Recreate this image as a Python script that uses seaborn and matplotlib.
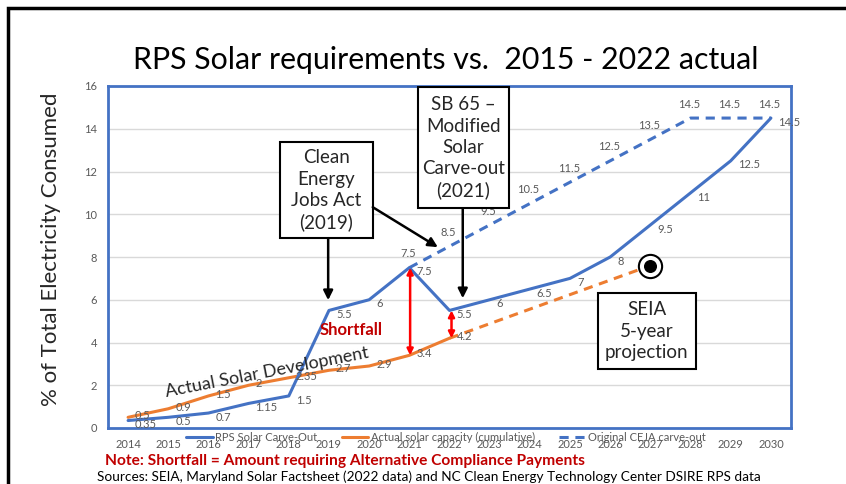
import pandas as pd
import seaborn as sns
import matplotlib.pyplot as plt
from matplotlib.lines import Line2D
from matplotlib.patches import Rectangle

# data
years = list(range(2014, 2031))
rps_carveout = [0.35, 0.5, 0.7, 1.15, 1.5, 5.5, 6, 7.5, 5.5, 6, 6.5, 7, 8, 9.5, 11, 12.5, 14.5]

actual_years = list(range(2014, 2023))
actual_capacity = [0.5, 0.9, 1.5, 2, 2.35, 2.7, 2.9, 3.4, 4.2]

proj_years = [2022, 2027]
proj_capacity = [4.2, 7.6]

ceja_years = list(range(2021, 2031))
ceja_carveout = [7.5, 8.5, 9.5, 10.5, 11.5, 12.5, 13.5, 14.5, 14.5, 14.5]

y_ticks = [0, 2, 4, 6, 8, 10, 12, 14, 16]

BLUE = "#4472C4"
ORANGE = "#ED7D31"
GRAY = "#595959"
RED = "#C00000"

sns.set_style("white")
plt.rcParams['font.family'] = ['Lato', 'DejaVu Sans']

fig = plt.figure(figsize=(8.46, 4.84), dpi=100)
ax = fig.add_axes([108 / 846, 1 - 428 / 484, 683 / 846, 342 / 484])

df_rps = pd.DataFrame({"year": years, "value": rps_carveout})
df_act = pd.DataFrame({"year": actual_years, "value": actual_capacity})
df_proj = pd.DataFrame({"year": proj_years, "value": proj_capacity})
df_ceja = pd.DataFrame({"year": ceja_years, "value": ceja_carveout})

dash = (0, (3, 2.2))
sns.lineplot(data=df_ceja, x="year", y="value", ax=ax, color=BLUE, lw=2.2,
             linestyle=dash, zorder=3)
sns.lineplot(data=df_proj, x="year", y="value", ax=ax, color=ORANGE, lw=2.2,
             linestyle=dash, zorder=3)
sns.lineplot(data=df_act, x="year", y="value", ax=ax, color=ORANGE, lw=2.2, zorder=4)
sns.lineplot(data=df_rps, x="year", y="value", ax=ax, color=BLUE, lw=2.2, zorder=5)

# projection target marker
ax.scatter([proj_years[-1]], [proj_capacity[-1]], s=280, facecolor="white",
           edgecolor="black", linewidth=1.5, zorder=6)
ax.scatter([proj_years[-1]], [proj_capacity[-1]], s=70, color="black", zorder=7)

# data labels
lbl = dict(fontsize=8, color=GRAY, zorder=8)
for x, v in zip(years, rps_carveout):
    ax.annotate(f"{v:g}", (x, v), xytext=(5, -3), textcoords="offset points",
                ha="left", va="center", **lbl)
for x, v in zip(actual_years, actual_capacity):
    ax.annotate(f"{v:g}", (x, v), xytext=(5, 1), textcoords="offset points",
                ha="left", va="center", **lbl)
for x, v in zip(ceja_years, ceja_carveout):
    ax.annotate(f"{v:g}", (x, v), xytext=(-1, 10), textcoords="offset points",
                ha="center", va="center", **lbl)

ax.set_xlim(2013.5, 2030.5)
ax.set_ylim(0, 16)
ax.set_xticks(years)
ax.set_yticks(y_ticks)
ax.tick_params(axis="both", length=0, labelsize=8, labelcolor=GRAY)
ax.tick_params(axis="x", pad=8)
ax.tick_params(axis="y", pad=8)
ax.grid(axis="y", color="#D9D9D9", lw=1)
ax.set_axisbelow(True)
for sp in ax.spines.values():
    sp.set_color(BLUE)
    sp.set_linewidth(2)
ax.set_xlabel("")
ax.set_ylabel("% of Total Electricity Consumed", fontsize=16, color="#262626")
ax.yaxis.set_label_coords(-(108 - 61) / 683, (428 - 249) / 342)


def text_box(x0, x1, y0, y1, txt):
    ax.add_patch(Rectangle((x0, y0), x1 - x0, y1 - y0, fc="white", ec="black",
                           lw=1.5, zorder=9))
    ax.text((x0 + x1) / 2, (y0 + y1) / 2, txt, ha="center", va="center",
            fontsize=13.5, linespacing=1.3, zorder=10)


# annotation boxes
text_box(2017.78, 2020.09, 8.88, 13.36, "Clean\nEnergy\nJobs Act\n(2019)")
text_box(2021.21, 2023.48, 10.28, 15.93, "SB 65 \u2013\nModified\nSolar\nCarve-out\n(2021)")
text_box(2025.69, 2028.13, 2.76, 6.31, "SEIA\n5-year\nprojection")

arw = dict(arrowstyle="-|>", color="black", lw=1.8, mutation_scale=14, shrinkA=0, shrinkB=0)
ax.annotate("", xy=(2018.98, 5.98), xytext=(2018.98, 8.88), arrowprops=arw, zorder=9)
ax.annotate("", xy=(2022.33, 6.07), xytext=(2022.33, 10.28), arrowprops=arw, zorder=9)
ax.annotate("", xy=(2021.71, 8.46), xytext=(2020.09, 10.33), arrowprops=arw, zorder=9)

# shortfall arrows
red_arw = dict(arrowstyle="<|-|>", color="red", lw=1.8, mutation_scale=9,
               shrinkA=0, shrinkB=0)
ax.annotate("", xy=(2021.02, 7.5), xytext=(2021.02, 3.4), arrowprops=red_arw, zorder=9)
ax.annotate("", xy=(2022.05, 5.5), xytext=(2022.05, 4.2), arrowprops=red_arw, zorder=9)
ax.text(2019.55, 4.6, "Shortfall", color=RED, fontsize=12, fontweight="bold",
        ha="center", va="center", zorder=9)

ax.text(2017.45, 2.6, "Actual Solar Development", fontsize=13, rotation=11,
        ha="center", va="center", zorder=9)

handles = [Line2D([], [], color=BLUE, lw=2.2),
           Line2D([], [], color=ORANGE, lw=2.2),
           Line2D([], [], color=BLUE, lw=2.2, linestyle=dash)]
labels = ["RPS Solar Carve-Out", "Actual solar capacity (cumulative)", "Original CEJA carve-out"]
leg = ax.legend(handles, labels, loc="center", bbox_to_anchor=((446 - 108) / 683, -9 / 342),
                ncol=3, frameon=False, fontsize=8, handlelength=2.4, handletextpad=0.2,
                columnspacing=2.2, borderaxespad=0)
for t in leg.get_texts():
    t.set_color(GRAY)

fig.text(133 / 846, 1 - 60 / 484, "RPS Solar requirements vs.  2015 - 2022 actual",
         fontsize=21.8, ha="left", va="center", color="black")
fig.text(105 / 846, 1 - 461 / 484,
         "Note: Shortfall = Amount requiring Alternative Compliance Payments",
         fontsize=11.2, fontweight="bold", color=RED, ha="left", va="center")
fig.text(97 / 846, 1 - 477 / 484,
         "Sources: SEIA, Maryland Solar Factsheet (2022 data) and NC Clean Energy Technology Center DSIRE RPS data",
         fontsize=9.8, color="black", ha="left", va="center")

# slide frame
fig.patches.append(Rectangle((8 / 846, -0.1), 1.0, 1 - 8 / 484 + 0.1, transform=fig.transFigure,
                             fill=False, ec="black", lw=2.5))

fig.savefig("out.png", dpi=100)
